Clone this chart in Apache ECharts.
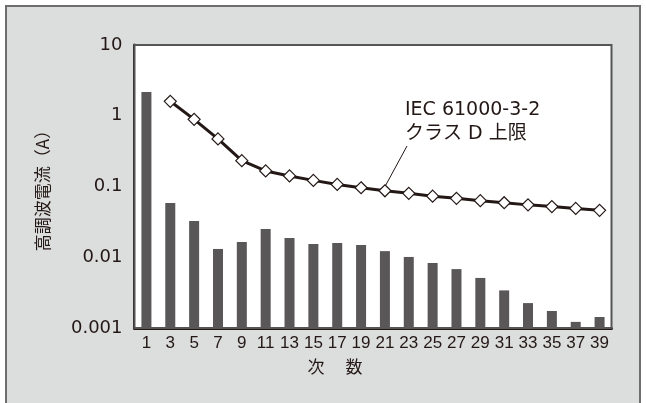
<!DOCTYPE html>
<html>
<head>
<meta charset="utf-8">
<script src="https://cdn.jsdelivr.net/npm/echarts@6/dist/echarts.min.js"></script>
<style>
html,body{margin:0;padding:0;background:#fff;}
#c{width:646px;height:403px;}
</style>
</head>
<body>
<div id="c"></div>
<script>
const harmonics = ['1','3','5','7','9','11','13','15','17','19','21','23','25','27','29','31','33','35','37','39'];
const measured = [2.17,0.0585,0.0325,0.0131,0.0164,0.0251,0.0187,0.0154,0.0159,0.0149,0.0122,0.0101,0.0083,0.0068,0.0051,0.0034,0.00225,0.00174,0.00122,0.00143];
const limitClassD = [null,1.6,0.89,0.47,0.232,0.166,0.141,0.122,0.107,0.096,0.087,0.08,0.073,0.068,0.063,0.059,0.055,0.052,0.049,0.046];
const yTicks = [0.001,0.01,0.1,1,10];
const yTickLabels = ['0.001','0.01','0.1','1','10'];
const annotationLines = ['IEC 61000-3-2','クラス D 上限'];
const annotationIndex = 10;

const dark = '#231815';
const latin = '"DejaVu Sans", "Noto Sans CJK JP", sans-serif';
const cjk = '"Noto Sans CJK JP", sans-serif';

const chart = echarts.init(document.getElementById('c'), null, {renderer:'canvas'});
chart.setOption({
  backgroundColor: '#ffffff',
  animation: false,
  grid: {
    left: 134.5, top: 45, right: 34.5, bottom: 75,
    show: true, backgroundColor: '#ffffff', borderColor: '#555555', borderWidth: 2, z: 1
  },
  xAxis: {
    type: 'category',
    data: harmonics,
    axisLine: {show: true, lineStyle: {color: dark, width: 3}},
    axisTick: {show: false},
    axisLabel: {interval: 0, color: dark, fontFamily: '"Liberation Sans", sans-serif', fontSize: 17, margin: 7},
    splitLine: {show: false}
  },
  yAxis: {
    type: 'log',
    logBase: 10,
    min: yTicks[0],
    max: yTicks[yTicks.length-1],
    startValue: yTicks[0],
    name: '高調波電流（A）',
    nameLocation: 'middle',
    nameGap: 83,
    nameTextStyle: {color: dark, fontFamily: cjk, fontSize: 17},
    axisLine: {show: true, lineStyle: {color: dark, width: 3}},
    axisTick: {show: true, inside: true, length: 7, lineStyle: {color: dark, width: 2}},
    axisLabel: {
      color: dark, fontFamily: latin, fontSize: 18, margin: 12,
      formatter: function(v){
        for (let i=0;i<yTicks.length;i++){ if (Math.abs(Math.log10(v)-Math.log10(yTicks[i]))<1e-6) return yTickLabels[i]; }
        return '';
      }
    },
    splitLine: {show: false}
  },
  series: [
    {
      type: 'custom',
      data: measured.map(function(v,i){ return [i, v]; }),
      renderItem: function(params, api){
        const top = api.coord([api.value(0), api.value(1)]);
        const base = api.coord([api.value(0), yTicks[0]]);
        const w = 10;
        return {
          type: 'rect',
          shape: {x: top[0]-w/2, y: top[1], width: w, height: base[1]-top[1]},
          style: {fill: '#595757'}
        };
      },
      encode: {x: 0, y: 1},
      z: 2
    },
    {
      type: 'line',
      data: limitClassD,
      lineStyle: {color: dark, width: 3},
      symbol: 'diamond',
      symbolSize: 12,
      showAllSymbol: true,
      itemStyle: {color: '#ffffff', borderColor: dark, borderWidth: 1.2},
      z: 3
    }
  ]
});

const p = chart.convertToPixel({gridIndex:0}, [harmonics[annotationIndex], limitClassD[annotationIndex]]);
chart.setOption({
  graphic: [
    {type:'rect', shape:{x:6, y:6, width:634, height:420}, style:{fill:'#dcdddd', stroke:'#6e6e6e', lineWidth:2}, z:-10, silent:true},
    {type:'line', shape:{x1:407, y1:146, x2:p[0]+0.5, y2:p[1]-5}, style:{stroke:dark, lineWidth:1}, z:100},
    {type:'text', x:405, y:101, style:{text: annotationLines[0], fill: dark, font: '19px ' + latin}, z:100},
    {type:'text', x:405, y:125, style:{text: annotationLines[1], fill: dark, font: '19px ' + latin}, z:100},
    {type:'text', x:335, y:367, style:{text:'次　 数', fill: dark, font:'17px ' + cjk, align:'center', verticalAlign:'middle'}, z:100}
  ]
});
</script>
</body>
</html>
